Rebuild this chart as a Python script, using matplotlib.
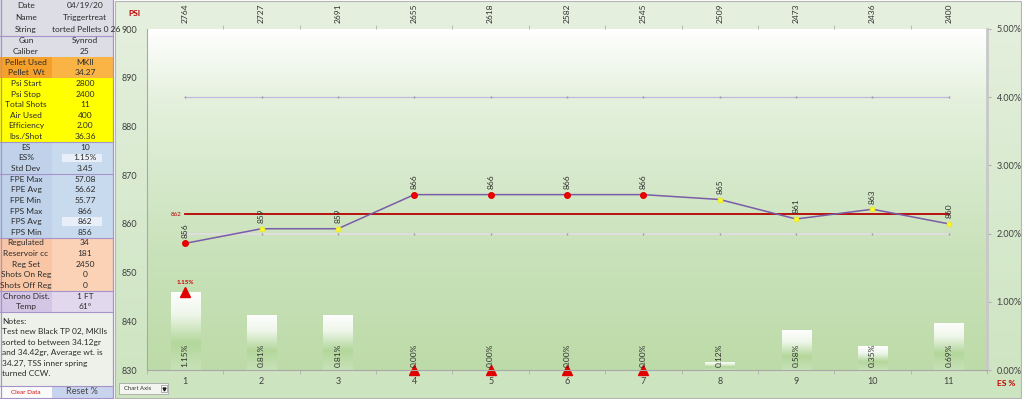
import numpy as np
import matplotlib
matplotlib.use("Agg")
import matplotlib.pyplot as plt
from matplotlib.colors import LinearSegmentedColormap
from matplotlib.patches import Rectangle
from matplotlib.ticker import PercentFormatter

plt.rcParams['font.family'] = ['Lato', 'DejaVu Sans']

# --- data -------------------------------------------------------------
shots = np.arange(1, 12)
psi = [2764, 2727, 2691, 2655, 2618, 2582, 2545, 2509, 2473, 2436, 2400]
fps = [856, 859, 859, 866, 866, 866, 866, 865, 861, 863, 860]
es_pct = [1.15, 0.81, 0.81, 0.00, 0.00, 0.00, 0.00, 0.12, 0.58, 0.35, 0.69]
fps_avg = 862
guide_hi, guide_lo = 4.0, 2.0   # ES% guide lines

labels = ["Date", "Name", "String", "Gun", "Caliber", "Pellet Used", "Pellet  Wt",
          "Psi Start", "Psi Stop", "Total Shots", "Air Used", "Efficiency", "lbs./Shot",
          "ES", "ES%", "Std Dev", "FPE Max", "FPE Avg", "FPE Min",
          "FPS Max", "FPS Avg", "FPS Min", "Regulated", "Reservoir cc", "Reg Set",
          "Shots On Reg", "Shots Off Reg", "Chrono Dist.", "Temp"]
values = ["04/19/20", "Triggertreat", "torted Pellets 0 26", "Synrod", "25", "MKII", "34.27",
          "2800", "2400", "11", "400", "2.00", "36.36",
          "10", "1.15%", "3.45", "57.08", "56.62", "55.77",
          "866", "862", "856", "34", "181", "2450",
          "0", "0", "1 FT", "61°"]
notes = ["Notes:", "Test new Black TP 02, MKIIs", "sorted to between 34.12gr",
         "and 34.42gr, Average wt. is", "34.27, TSS inner spring", "turned CCW."]

# --- figure -----------------------------------------------------------
W, H = 1022, 399
fig = plt.figure(figsize=(W / 100, H / 100), dpi=100)
fig.patch.set_facecolor("white")

bg = fig.add_axes([0, 0, 1, 1])
bg.axis("off")

def box(x0, y0, x1, y1):
    return [x0 / W, 1 - y1 / H, (x1 - x0) / W, (y1 - y0) / H]

grad = np.linspace(0, 1, 256)[:, None]
cm_outer = LinearSegmentedColormap.from_list("o", ["#e6f0df", "#d8eacf", "#cde4c0"])
cm_plot = LinearSegmentedColormap.from_list(
    "p", [(0, "#ffffff"), (0.2, "#e5f1de"), (0.45, "#d5e9ca"), (0.65, "#cae2bb"), (1, "#bddba8")])
cm_bar = LinearSegmentedColormap.from_list(
    "b", [(0, "#ffffff"), (0.3, "#eef6e9"), (0.65, "#b3d79b"), (1, "#c8e2b8")])

bg.imshow(grad, cmap=cm_outer, extent=[115, 1021, 398, 1], aspect="auto")
bg.imshow(grad, cmap=cm_plot, extent=[147, 987, 370, 29], aspect="auto")
bg.add_patch(Rectangle((115, 1), 906, 397, fill=False, ec="#b5b5b5", lw=0.8))
bg.set_xlim(0, W)
bg.set_ylim(H, 0)

# left info panel
tops = [0, 11.8, 23.6] + [35.5 + 10.64 * k for k in range(26)]
bots = tops[1:] + [312.1]
sect = (["gray"] * 5 + ["orange"] * 2 + ["yellow"] * 6 + ["blue"] * 9 +
        ["salmon"] * 5 + ["lav"] * 2)
cols = {"gray": ("#dcdde5", "#dcdde5"), "orange": ("#f6a02c", "#fab446"),
        "yellow": ("#ffff00", "#ffff00"), "blue": ("#bfd2ea", "#c8daee"),
        "salmon": ("#f8c6a5", "#fbd2b6"), "lav": ("#d3c6e5", "#e1d8ee")}
for i, (lab, val) in enumerate(zip(labels, values)):
    t, b = tops[i], bots[i]
    c1, c2 = cols[sect[i]]
    bg.add_patch(Rectangle((0, t), 52, b - t, fc=c1, ec="none"))
    bg.add_patch(Rectangle((52, t), 61, b - t, fc=c2, ec="none"))
    if lab in ("ES%", "FPS Avg"):
        bg.add_patch(Rectangle((62, t + 1), 40, b - t - 2, fc="#e8eff8", ec="none"))
    yc = (t + b) / 2
    bg.text(26, yc, lab, ha="center", va="center", fontsize=6, color="#2b2b2b")
    bg.text(85 if lab != "String" else 86, yc, val, ha="center", va="center",
            fontsize=6, color="#2b2b2b", zorder=5)
bg.add_patch(Rectangle((0, 312.1), 113, 73.9, fc="#eef1ea", ec="none"))
for k, line in enumerate(notes):
    bg.text(2, 321 + k * 10.5, line, ha="left", va="center", fontsize=6, color="#2b2b2b")
bg.add_patch(Rectangle((0, 386), 52, 12, fc="#fbfbfb", ec="none"))
bg.add_patch(Rectangle((52, 386), 61, 12, fc="#c8d3ee", ec="none"))
bg.text(26, 392, "Clear Data", ha="center", va="center", fontsize=4.6, color="#d01010")
bg.text(82, 392, "Reset %", ha="center", va="center", fontsize=6.5, color="#4a4a4a")
for yy in [35.5, tops[13], tops[16], tops[22], tops[27], 312.1, 386, 398]:
    bg.plot([0, 113], [yy, yy], color="#a593c9", lw=0.8)
bg.plot([113, 113], [0, 398], color="#a593c9", lw=0.9)
bg.plot([0.5, 0.5], [0, 398], color="#a593c9", lw=0.9)

# chart axis dropdown
bg.add_patch(Rectangle((119, 383), 49, 11, fc="#f3f5f1", ec="#a8a8a8", lw=0.6))
bg.text(138, 388.5, "Chart Axis", ha="center", va="center", fontsize=4.3, color="#333333")
bg.add_patch(Rectangle((161, 385), 6, 7, fc="#ffffff", ec="#909090", lw=0.5))
bg.plot(164, 388.5, marker="v", ms=2.2, color="#202020")

fig.text(134 / W, 1 - 14 / H, "PSI", ha="center", va="center", fontsize=6,
         color="#c00000", fontweight="bold")
fig.text(1006 / W, 1 - 383 / H, "ES %", ha="center", va="center", fontsize=6,
         color="#c00000", fontweight="bold")

# --- main chart ---------------------------------------------------------
ax = fig.add_axes(box(147, 29, 987, 370))
ax2 = ax.twinx()
ax.set_zorder(ax2.get_zorder() + 1)
ax.patch.set_visible(False)

# ES% bars on right axis
w = 0.38
bars = ax2.bar(shots, es_pct, width=w, color="none", ec="none")
for x, v, bar in zip(shots, es_pct, bars):
    if v > 0:
        im = ax2.imshow(grad, cmap=cm_bar, extent=[x - w / 2, x + w / 2, 0, v],
                        aspect="auto", zorder=1)
        im.set_clip_path(bar)
    ax2.annotate(f"{v:.2f}%", (x, 0), xytext=(0, 2), textcoords="offset points",
                 rotation=90, ha="center", va="bottom", fontsize=6, color="#303030", zorder=6)
es_max, es_min = max(es_pct), min(es_pct)
for x, v in zip(shots, es_pct):
    if v == es_max or v == es_min:
        ax2.plot(x, v, marker="^", color="#e00000", ms=6.5, clip_on=False, zorder=5)
    if v == es_max:
        ax2.annotate(f"{v:.2f}%", (x, v), xytext=(0, 5), textcoords="offset points",
                     ha="center", va="bottom", fontsize=4.5, color="#d00000", fontweight="bold")

ax2.plot(shots, [guide_hi] * len(shots), color="#c3b8de", lw=0.9, marker="|", ms=2,
         mec="#9a9a9a", zorder=2)
ax2.plot(shots, [guide_lo] * len(shots), color="#dedede", lw=1.5, marker="|", ms=2,
         mec="#9a9a9a", zorder=2)

ax2.set_xlim(0.5, 11.5)
ax2.set_ylim(0, 5)
ax2.set_yticks(np.arange(0, 6))
ax2.yaxis.set_major_formatter(PercentFormatter(decimals=2))
ax2.tick_params(axis="y", labelsize=6.5, labelcolor="#404040", length=3, color="#b0b0b0", pad=4)
for s in ("left", "top", "bottom"):
    ax2.spines[s].set_visible(False)
ax2.spines["right"].set_color("#c8c8c8")
ax2.spines["right"].set_linewidth(2)

# FPS line
ax.plot(shots, fps, color="#7a5ca8", lw=1.1, zorder=3)
ax.plot([shots[0], shots[-1]], [fps_avg, fps_avg], color="#b80000", lw=1.3, zorder=2)
ax.annotate(str(fps_avg), (shots[0], fps_avg), xytext=(-3, 0), textcoords="offset points",
            ha="right", va="center", fontsize=4.5, color="#c00000")
hi, lo = max(fps), min(fps)
for x, v in zip(shots, fps):
    if v in (hi, lo):
        ax.plot(x, v, marker="o", ms=4, color="#f00000", mec="#e00000", zorder=4)
    else:
        ax.plot(x, v, marker="s", ms=3, color="#ffff20", mec="#e8e840", zorder=4)
    ax.annotate(str(v), (x, v), xytext=(0, 4), textcoords="offset points", rotation=90,
                ha="center", va="bottom", fontsize=6, color="#303030")

ax.set_xlim(0.5, 11.5)
ax.set_ylim(830, 900)
ax.set_yticks(np.arange(830, 901, 10))
ax.set_xticks(shots)
ax.set_xticks(np.arange(0.5, 11.6, 1), minor=True)
ax.tick_params(axis="y", labelsize=6.5, labelcolor="#404040", length=0, pad=7)
ax.tick_params(axis="x", which="major", labelsize=6.5, labelcolor="#404040", length=0, pad=5)
ax.tick_params(axis="x", which="minor", length=3, color="#b0b0b0")
for s in ("top", "right"):
    ax.spines[s].set_visible(False)
ax.spines["left"].set_color("#a8a8a8")
ax.spines["bottom"].set_color("#a8a8a8")

sec = ax.secondary_xaxis("top")
sec.set_ticks(shots, labels=[str(p) for p in psi], rotation=90, fontsize=6, color="#303030")
sec.set_ticks(np.arange(1.5, 11.0, 1), minor=True)
sec.tick_params(which="major", length=0, pad=4)
sec.tick_params(which="minor", length=3, color="#b0b0b0")
sec.spines["top"].set_visible(False)

fig.savefig("out.png", dpi=100, facecolor=fig.get_facecolor())
